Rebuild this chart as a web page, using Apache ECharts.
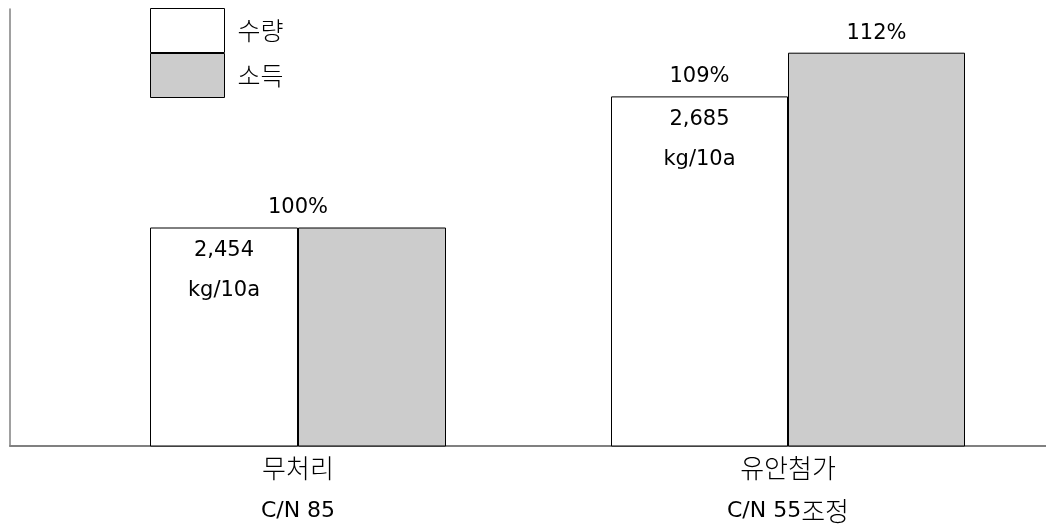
<!DOCTYPE html>
<html>
<head>
<meta charset="utf-8">
<script src="https://cdn.jsdelivr.net/npm/echarts@6/dist/echarts.min.js"></script>
<style>
html,body{margin:0;padding:0;background:#fff;overflow:hidden;}
#chart{width:1046px;height:526px;}
</style>
</head>
<body>
<div id="chart"></div>
<script>
// ---- data ----
const categories = ['무처리\nC/N 85', '유안첨가\nC/N 55조정'];
const seriesNames = ['수량', '소득'];
const yieldPct = [100, 109];
const incomePct = [100, 112];
const yieldKg = ['2,454', '2,685'];
const yieldUnit = 'kg/10a';
const yMin = 85, yMax = 115;

// ---- chart ----
const FONT = '"DejaVu Sans", "Noto Sans CJK KR", sans-serif';
const KFONT = '"Noto Sans CJK KR", sans-serif';
const AXIS_COLOR = '#808080';
const barWidths = [148, 177];
const grids = [
  { left: 10, width: 576, top: 9, bottom: 80, outerBoundsMode: 'none', containLabel: false },
  { left: 530, width: 516, top: 9, bottom: 80, outerBoundsMode: 'none', containLabel: false }
];
const baseLabel = { color: '#000', fontFamily: FONT, fontSize: 21 };
// wrap Hangul runs in a rich style so they render at the larger size of the original
const hangulRich = s => s.split('\n').map(line =>
  line.replace(/([\uAC00-\uD7A3]+)/g, '{h|$1}')).join('\n');

const xAxes = categories.map((c, i) => ({
  type: 'category', gridIndex: i, data: [c],
  axisLine: { show: true, lineStyle: { color: AXIS_COLOR, width: 2 } },
  axisTick: { show: false },
  axisLabel: { ...baseLabel, fontSize: 22, margin: 1, lineHeight: 43, interval: 0,
    formatter: v => hangulRich(v),
    rich: { h: { fontFamily: KFONT, fontWeight: 300, fontSize: 26, lineHeight: 43, color: '#000' } } }
}));
const yAxes = categories.map((c, i) => ({
  type: 'value', gridIndex: i, min: yMin, max: yMax,
  axisLine: { show: i === 0, lineStyle: { color: AXIS_COLOR, width: 1.5 } },
  axisTick: { show: false }, axisLabel: { show: false }, splitLine: { show: false }
}));

const series = [];
categories.forEach((c, i) => {
  const sameTop = yieldPct[i] === incomePct[i];
  series.push({
    name: seriesNames[0], type: 'bar', xAxisIndex: i, yAxisIndex: i,
    stack: 'y' + i, barWidth: barWidths[i], barGap: 0,
    data: [yieldPct[i]],
    itemStyle: { color: '#ffffff', borderColor: '#000', borderWidth: 1 },
    label: { show: true, position: 'insideTop', distance: 3, lineHeight: 40, ...baseLabel,
      formatter: () => yieldKg[i] + '\n' + yieldUnit }
  });
  if (!sameTop) {
    series.push({
      name: 'label' + i, type: 'bar', xAxisIndex: i, yAxisIndex: i,
      stack: 'y' + i, barWidth: barWidths[i],
      data: [0],
      itemStyle: { color: 'rgba(0,0,0,0)', borderWidth: 0 },
      label: { show: true, position: 'top', distance: 9, ...baseLabel,
        formatter: () => yieldPct[i] + '%' }
    });
  }
  series.push({
    name: seriesNames[1], type: 'bar', xAxisIndex: i, yAxisIndex: i,
    barWidth: barWidths[i], barGap: 0,
    data: [incomePct[i]],
    itemStyle: { color: '#cccccc', borderColor: '#000', borderWidth: 1 },
    label: { show: true, position: 'top', distance: 9, ...baseLabel,
      offset: sameTop ? [-barWidths[i] / 2, 0] : [0, 0],
      formatter: () => incomePct[i] + '%' }
  });
});

const chart = echarts.init(document.getElementById('chart'));
chart.setOption({
  animation: false,
  backgroundColor: '#fff',
  legend: {
    data: seriesNames.map(n => ({ name: n, icon: 'rect' })),
    orient: 'vertical', left: 150, top: 8, padding: 0,
    itemWidth: 74, itemHeight: 44, itemGap: 0,
    selectedMode: false,
    itemStyle: { borderWidth: 1, borderColor: '#000' },
    formatter: n => hangulRich(n),
    textStyle: { ...baseLabel, fontSize: 22, lineHeight: 44, padding: [0, 0, 0, 8],
      rich: { h: { fontFamily: KFONT, fontWeight: 300, fontSize: 25, lineHeight: 44, color: '#000' } } }
  },
  grid: grids,
  xAxis: xAxes,
  yAxis: yAxes,
  series: series
});
</script>
</body>
</html>
